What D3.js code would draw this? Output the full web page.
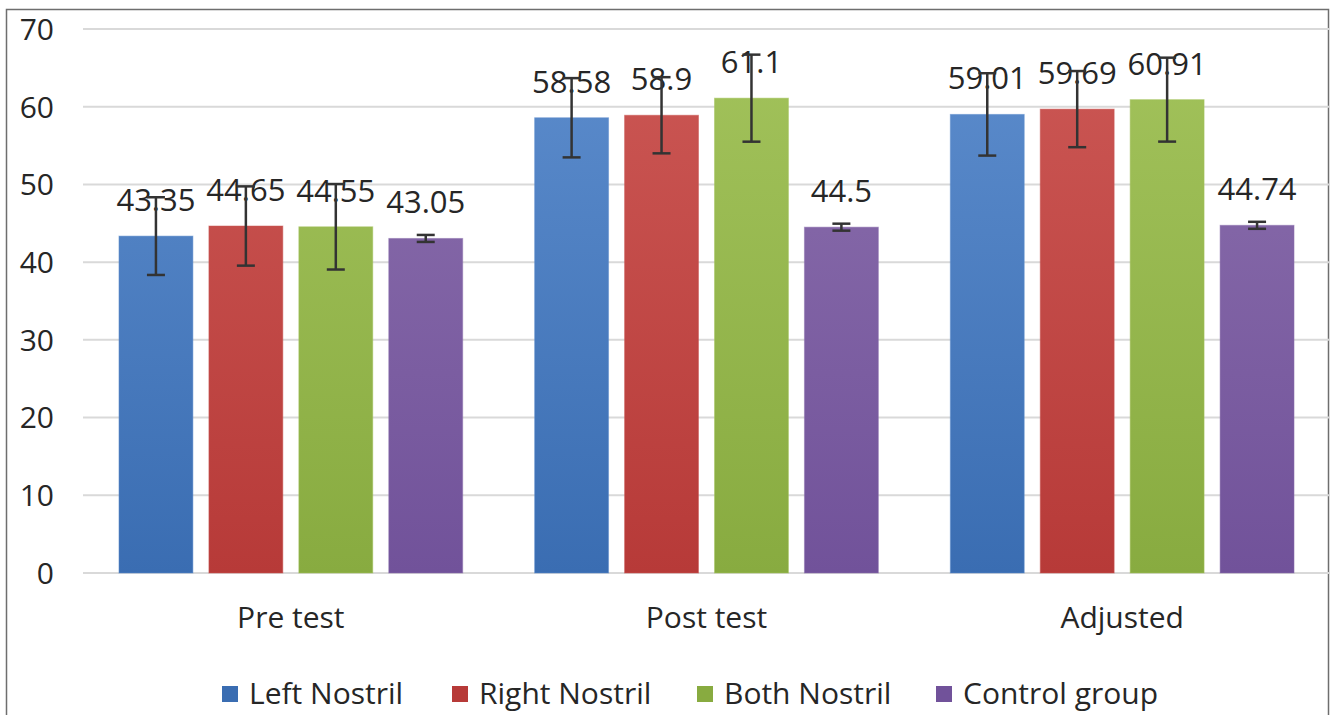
<!DOCTYPE html>
<html><head><meta charset="utf-8">
<script src="https://cdn.jsdelivr.net/npm/d3@7"></script>
<style>
html,body{margin:0;padding:0;background:#fff;}
svg{display:block;}
text{font-family:"Open Sans","DejaVu Sans",sans-serif;fill:#262626;}
</style></head>
<body><svg id="c" width="1330" height="715"></svg>
<script>
const categories = ["Pre test", "Post test", "Adjusted"];
const seriesNames = ["Left Nostril", "Right Nostril", "Both Nostril", "Control group"];
const leftNostril  = [43.35, 58.58, 59.01];
const rightNostril = [44.65, 58.9, 59.69];
const bothNostril  = [44.55, 61.1, 60.91];
const controlGroup = [43.05, 44.5, 44.74];
const leftErr  = [5.0, 5.1, 5.3];
const rightErr = [5.1, 4.9, 4.9];
const bothErr  = [5.5, 5.6, 5.4];
const controlErr = [0.45, 0.45, 0.45];
const labelText = [["43.35","58.58","59.01"],["44.65","58.9","59.69"],["44.55","61.1","60.91"],["43.05","44.5","44.74"]];
const yTicks = [0,10,20,30,40,50,60,70];

const values = [leftNostril, rightNostril, bothNostril, controlGroup];
const errs = [leftErr, rightErr, bothErr, controlErr];
const colorsTop = ["#5d8dcd","#cc5855","#a3c35c","#8c70ad"];
const colorsBot = ["#3a6db2","#b73a38","#88ab40","#71529a"];

const svg = d3.select("#c");
const defs = svg.append("defs");
colorsTop.forEach((c,i)=>{
  const g = defs.append("linearGradient").attr("id","g"+i).attr("x1",0).attr("x2",0)
    .attr("gradientUnits","userSpaceOnUse").attr("y1",29).attr("y2",573);
  g.append("stop").attr("offset","0%").attr("stop-color",c);
  g.append("stop").attr("offset","100%").attr("stop-color",colorsBot[i]);
});

// frame
svg.append("rect").attr("x",6.5).attr("y",9.5).attr("width",1322).attr("height",720)
  .attr("fill","none").attr("stroke","#6e6e6e").attr("stroke-width",1.5);

const x0 = d3.scaleBand().domain(categories).range([83,1330]).paddingInner(0).paddingOuter(0);
const x1 = d3.scaleBand().domain(seriesNames).range([0,x0.bandwidth()]).paddingInner(0.178).paddingOuter(0.4);
const y = d3.scaleLinear().domain([0,70]).range([573,29]);

// grid
svg.append("g").selectAll("line").data(yTicks).join("line")
  .attr("x1",83).attr("x2",1330).attr("y1",d=>y(d)).attr("y2",d=>y(d))
  .attr("stroke","#d9d9d9").attr("stroke-width",2);

// y axis labels
svg.append("g").selectAll("text").data(yTicks).join("text")
  .attr("x",54).attr("y",d=>y(d)).attr("dy","0.36em").attr("text-anchor","end")
  .style("font-size","30px").text(d=>d);

// bars
seriesNames.forEach((s,si)=>{
  const g = svg.append("g");
  const data = categories.map((c,ci)=>({c,ci,v:values[si][ci]}));
  g.selectAll("rect").data(data).join("rect")
    .attr("x",d=>x0(d.c)+x1(s)).attr("width",x1.bandwidth())
    .attr("y",d=>y(d.v)).attr("height",d=>y(0)-y(d.v))
    .attr("fill","url(#g"+si+")").attr("stroke",colorsTop[si]).attr("stroke-opacity",0.5).attr("stroke-width",1);
});

// labels
seriesNames.forEach((s,si)=>{
  svg.append("g").selectAll("text").data(categories.map((c,ci)=>({c,ci,v:values[si][ci]}))).join("text")
    .attr("x",d=>x0(d.c)+x1(s)+x1.bandwidth()/2).attr("y",d=>y(d.v)-25)
    .attr("text-anchor","middle").style("font-size","31px")
    .text(d=>labelText[si][d.ci]);
});

// error bars
seriesNames.forEach((s,si)=>{
  const g = svg.append("g").attr("stroke","#333").attr("stroke-width",2.5);
  categories.forEach((c,ci)=>{
    const cx = x0(c)+x1(s)+x1.bandwidth()/2;
    const v = values[si][ci], e = errs[si][ci];
    g.append("line").attr("x1",cx).attr("x2",cx).attr("y1",y(v+e)).attr("y2",y(v-e));
    g.append("line").attr("x1",cx-9).attr("x2",cx+9).attr("y1",y(v+e)).attr("y2",y(v+e));
    g.append("line").attr("x1",cx-9).attr("x2",cx+9).attr("y1",y(v-e)).attr("y2",y(v-e));
  });
});

// category labels
svg.append("g").selectAll("text").data(categories).join("text")
  .attr("x",d=>x0(d)+x0.bandwidth()/2).attr("y",628).attr("text-anchor","middle")
  .style("font-size","30px").text(d=>d);

// legend
const legendX = [222, 452, 697, 936];
const lg = svg.append("g");
seriesNames.forEach((s,si)=>{
  lg.append("rect").attr("x",legendX[si]).attr("y",686).attr("width",16).attr("height",16)
    .attr("fill",colorsBot[si]);
  lg.append("text").attr("x",legendX[si]+27).attr("y",704).style("font-size","30px").text(s);
});
</script></body></html>
